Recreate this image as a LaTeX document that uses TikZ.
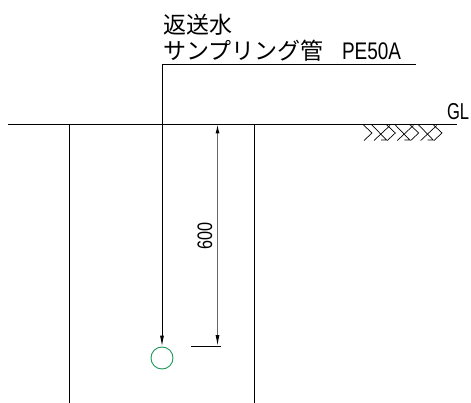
\documentclass[tikz,border=0pt]{standalone}
\usepackage{fontspec}
\usepackage{graphicx}
\usetikzlibrary{arrows.meta}
\newfontfamily\cjk{Noto Sans CJK JP}
\setmainfont{Liberation Sans}
\tikzset{
  x=1pt,y=-1pt,
  ln/.style={line width=1pt,black},
  thin ln/.style={line width=1pt,black!60},
  lbl/.style={inner sep=0pt,outer sep=0pt,anchor=base west,font=\cjk\fontsize{23}{23}\selectfont},
  latin/.style={inner sep=0pt,outer sep=0pt,anchor=base west},
  hatchline/.style={line width=0.7pt,black}
}
\begin{document}
\begin{tikzpicture}
\useasboundingbox (0,0) rectangle (471,403);
\coordinate (glL) at (8,124.5);
\coordinate (glR) at (457,124.5);
\coordinate (wall1t) at (69.5,124.5);
\coordinate (wall1b) at (69.5,403);
\coordinate (wall2t) at (254.5,124.5);
\coordinate (wall2b) at (254.5,403);
\coordinate (pipeR) at (416,64.5);
\coordinate (pipeC) at (162,64.5);
\coordinate (tickL) at (191,346);
\coordinate (tickR) at (221,346);
\coordinate (dimT) at (217.5,124.5);
\coordinate (dimB) at (217.5,346);
\node[circle,draw={rgb,255:red,30;green,150;blue,90},line width=0.9pt,minimum size=22pt,inner sep=0pt] (circ) at (162,358) {};
\draw[ln] (glL) -- (glR);
\draw[ln] (wall1t) -- (wall1b);
\draw[ln] (wall2t) -- (wall2b);
\draw[ln] (pipeR) -- (pipeC);
\draw[ln,-{Latex[length=11pt,width=4pt]}] (pipeC) -- (circ.north);
\draw[ln] (tickL) -- (tickR);
\draw[thin ln,{Latex[black,length=9pt,width=4pt]}-{Latex[black,length=11pt,width=4pt]}] (dimT) -- (dimB);
% ground hatching
\foreach \v in {372,395.3,418.7,442}{
  \begin{scope}[shift={(\v,124.5)},hatchline]
    \draw (-9,0) -- (0,8.5) -- (-8,16);
  \end{scope}
}
\foreach \v in {372,395.3,418.7}{
  \begin{scope}[shift={(\v,124.5)},hatchline]
    \draw (-0.5,0) -- (14.5,15.5) -- (9,15.5);
    \draw (2,16) -- (18,1);
  \end{scope}
}
\node[lbl] (t1) at (163,33.5) {返送水};
\node[lbl] (t2) at (163,60) {サンプリング管};
\node[latin,font=\fontsize{24}{24}\selectfont] (t3) at (342,60) {\scalebox{0.79}[1]{PE50A}};
\node[latin,font=\fontsize{23}{23}\selectfont] (gl) at (447,120) {\scalebox{0.72}[1]{GL}};
\node[inner sep=0pt,rotate=90,font=\fontsize{21}{21}\selectfont] (dim) at (205,236) {\scalebox{0.77}[1]{600}};
\end{tikzpicture}
\end{document}
